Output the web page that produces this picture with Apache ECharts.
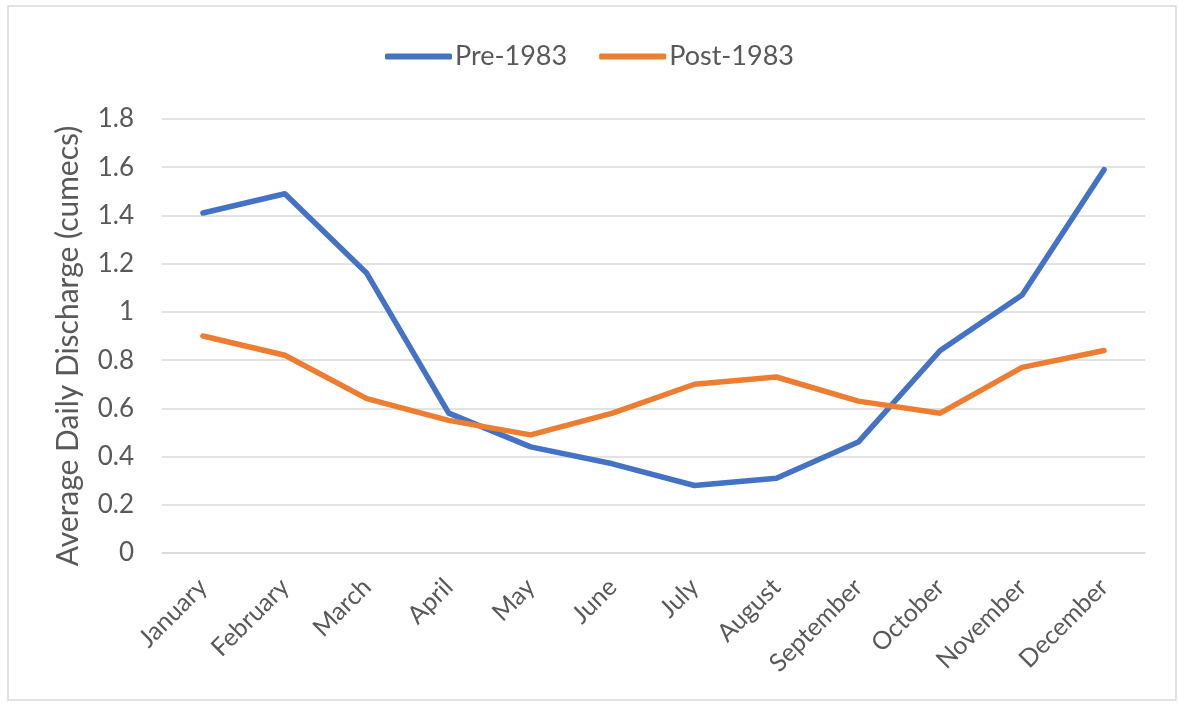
<!DOCTYPE html>
<html><head><meta charset="utf-8">
<script src="https://cdn.jsdelivr.net/npm/echarts@6/dist/echarts.min.js"></script>
<style>html,body{margin:0;padding:0;background:#fff}#c{width:1179px;height:707px}</style>
</head><body><div id="c"></div>
<script>
const months = ["January","February","March","April","May","June","July","August","September","October","November","December"];
const pre1983 = [1.41, 1.49, 1.16, 0.58, 0.44, 0.37, 0.28, 0.31, 0.46, 0.84, 1.07, 1.59];
const post1983 = [0.90, 0.82, 0.64, 0.55, 0.49, 0.58, 0.70, 0.73, 0.63, 0.58, 0.77, 0.84];
const yTicks = [0, 0.2, 0.4, 0.6, 0.8, 1, 1.2, 1.4, 1.6, 1.8];

const chart = echarts.init(document.getElementById('c'), null, {renderer: 'canvas'});
const font = 'Lato, "Open Sans", sans-serif';
chart.setOption({
  backgroundColor: '#fff',
  animation: false,
  graphic: [{type: 'rect', shape: {x: 8, y: 6, width: 1168, height: 694}, style: {fill: 'none', stroke: '#d9d9d9', lineWidth: 1.5}, silent: true}],
  legend: {
    top: 38, left: 'center', itemWidth: 67, itemHeight: 6, itemGap: 32,
    icon: 'roundRect',
    textStyle: {color: '#595959', fontSize: 27, fontFamily: font, padding: [0, 0, 0, -2]},
    data: ['Pre-1983', 'Post-1983']
  },
  grid: {left: 162, right: 34, top: 119, bottom: 154},
  xAxis: {
    type: 'category', data: months, boundaryGap: true,
    axisLine: {show: true, lineStyle: {color: '#d9d9d9', width: 1.5}},
    axisTick: {show: false},
    axisLabel: {rotate: 45, color: '#595959', fontSize: 25, fontFamily: font, margin: 30, interval: 0}
  },
  yAxis: {
    type: 'value', min: 0, max: 1.8, interval: 0.2,
    name: 'Average Daily Discharge (cumecs)', nameLocation: 'middle', nameGap: 79,
    nameTextStyle: {color: '#595959', fontSize: 30, fontFamily: font, padding: [0, 20, 0, 0]},
    axisLine: {show: false}, axisTick: {show: false},
    axisLabel: {color: '#595959', fontSize: 26, fontFamily: font, margin: 28,
      formatter: v => { const t = yTicks.find(x => Math.abs(x - v) < 1e-6); return t === undefined ? '' : String(t); }},
    splitLine: {lineStyle: {color: '#d9d9d9', width: 1.5}}
  },
  series: [
    {name: 'Pre-1983', type: 'line', data: pre1983, symbol: 'none', smooth: false,
      lineStyle: {color: '#4472C4', width: 5.5, cap: 'round', join: 'round'}, itemStyle: {color: '#4472C4'}},
    {name: 'Post-1983', type: 'line', data: post1983, symbol: 'none', smooth: false,
      lineStyle: {color: '#ED7D31', width: 5.5, cap: 'round', join: 'round'}, itemStyle: {color: '#ED7D31'}}
  ]
});
</script></body></html>
